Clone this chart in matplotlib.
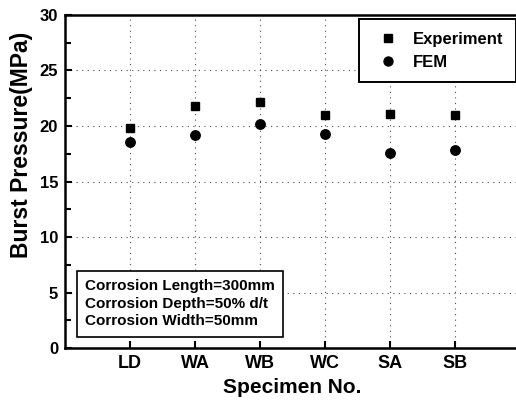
import matplotlib
matplotlib.use("Agg")
import matplotlib.pyplot as plt
from matplotlib.ticker import MultipleLocator

plt.rcParams['font.family'] = ['Liberation Sans', 'DejaVu Sans']
plt.rcParams['font.weight'] = 'bold'

specimens = ["LD", "WA", "WB", "WC", "SA", "SB"]
experiment = [19.8, 21.8, 22.2, 21.0, 21.1, 21.0]
fem = [18.6, 19.2, 20.2, 19.3, 17.6, 17.8]

fig = plt.figure(figsize=(5.16, 4.03), dpi=100)
ax = fig.add_axes([0.126, 0.136, 0.882, 0.827])
x = list(range(1, len(specimens) + 1))

ax.plot(x, experiment, linestyle='none', marker='s', color='black', markersize=6.3, label='Experiment')
ax.plot(x, fem, linestyle='none', marker='o', color='black', markersize=6.8, label='FEM')

ax.set_xlim(0, 7)
ax.set_ylim(0, 30)
ax.set_xticks(x)
ax.set_xticklabels(specimens, fontsize=13, fontweight='bold')
ax.yaxis.set_major_locator(MultipleLocator(5))
ax.yaxis.set_minor_locator(MultipleLocator(2.5))
ax.tick_params(axis='both', which='both', direction='in', width=1.5)
ax.tick_params(axis='both', which='major', length=5)
ax.tick_params(axis='y', which='major', labelsize=12, pad=5)
ax.tick_params(axis='x', which='major', pad=5)
ax.tick_params(axis='y', which='minor', length=4)
for lbl in ax.get_yticklabels():
    lbl.set_fontweight('bold')
ax.grid(True, which='major', linestyle=(0, (1, 4)), color='black', linewidth=0.8, alpha=0.7)
for s in ax.spines.values():
    s.set_linewidth(1.8)

ax.set_xlabel('Specimen No.', fontsize=15, fontweight='bold', labelpad=4)
ax.set_ylabel('Burst Pressure(MPa)', fontsize=16.5, fontweight='bold')
ax.yaxis.set_label_coords(-0.07, 0.61)

leg = ax.legend(loc='upper right', fontsize=12, frameon=True, fancybox=False,
                edgecolor='black', borderpad=0.75, handletextpad=0.5, handlelength=2.0,
                labelspacing=0.5, borderaxespad=0.25, markerscale=0.95)
leg.get_frame().set_linewidth(1.4)
leg.get_frame().set_alpha(1)

ax.text(0.31, 4.0, "Corrosion Length=300mm\nCorrosion Depth=50% d/t\nCorrosion Width=50mm",
        fontsize=11, fontweight='bold', va='center', ha='left', linespacing=1.32,
        bbox=dict(boxstyle='square,pad=0.55', facecolor='white', edgecolor='black', linewidth=1.2))

fig.savefig('out.png', dpi=100)
